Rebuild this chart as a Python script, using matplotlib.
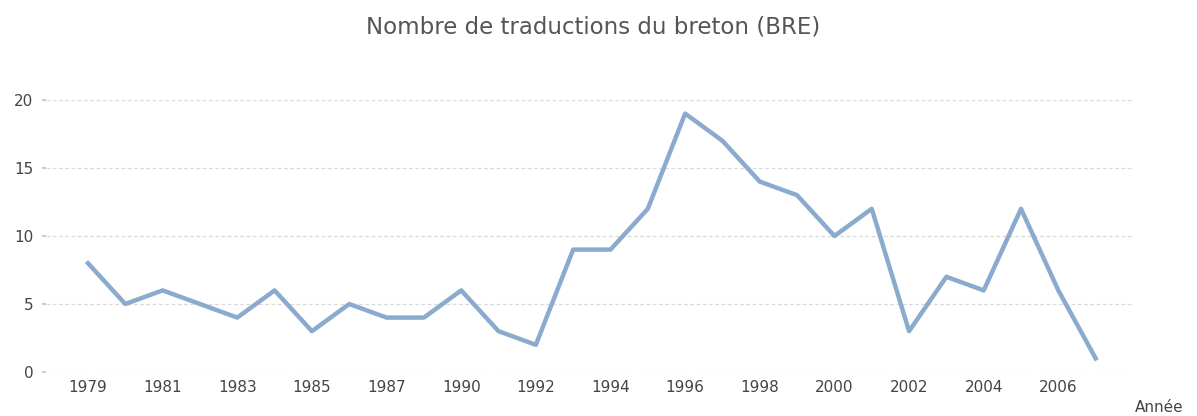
import matplotlib.pyplot as plt

years = ["1979", "1980", "1981", "1982", "1983", "1984", "1985", "1986", "1987",
         "1988", "1990", "1991", "1992", "1993", "1994", "1995", "1996", "1997",
         "1998", "1999", "2000", "2001", "2002", "2003", "2004", "2005", "2006",
         "2007"]
counts = [8, 5, 6, 5, 4, 6, 3, 5, 4, 4, 6, 3, 2, 9, 9, 12, 19, 17, 14, 13, 10,
          12, 3, 7, 6, 12, 6, 1]
y_ticks = [0, 5, 10, 15, 20]

fig = plt.figure(figsize=(11.97, 4.16), dpi=100)
ax = fig.add_axes([46 / 1197, 44 / 416, (1133 - 46) / 1197, 272 / 416])

x = list(range(len(years)))
ax.plot(x, counts, color="#8aabcd", lw=3.2, clip_on=False)

ax.set_xlim(-1.125, len(years) - 1 + 1.0)
ax.set_ylim(0, 20)
ax.set_yticks(y_ticks)
ax.set_xticks(x[::2])
ax.set_xticklabels(years[::2])
ax.grid(axis="y", color="#d9d9d9", linestyle=(0, (3, 2)), lw=0.9)
ax.set_axisbelow(True)
for s in ax.spines.values():
    s.set_visible(False)
ax.tick_params(axis="y", length=3, color="#cccccc", width=1.5, pad=6,
               labelsize=11, labelcolor="#444444")
ax.tick_params(axis="x", length=0, pad=6, labelsize=11, labelcolor="#444444")

fig.text(0.4955, 0.935, "Nombre de traductions du breton (BRE)", ha="center",
         va="center", fontsize=16.5, color="#555555")
# axis name sits in the bottom-right corner, below the tick labels
fig.text(1135 / 1197, 0.002, "Année", ha="left", va="bottom", fontsize=11,
         color="#444444")

fig.savefig("out.png", dpi=100)
